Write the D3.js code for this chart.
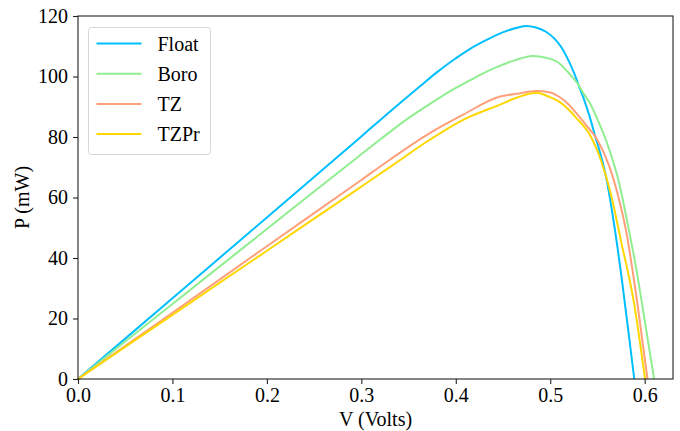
<!DOCTYPE html>
<html lang="en">
<head>
<meta charset="UTF-8">
<title>P-V curves</title>
<script src="https://d3js.org/d3.v7.min.js"></script>
<style>
  body { margin: 0; background: #fff; }
</style>
</head>
<body>
<script>
// series: voltage (V) and power (mW)
const seriesNames = ["Float", "Boro", "TZ", "TZPr"];
const seriesColors = ["#00bfff", "#90ee90", "#ffa07a", "#ffd700"];

const floatV = [0, 0.1, 0.2, 0.3, 0.3192, 0.3615, 0.3792, 0.3967, 0.4144, 0.432, 0.4496, 0.4672, 0.474, 0.4849, 0.4955, 0.5042, 0.5113, 0.5183, 0.5254, 0.5307, 0.536, 0.5412, 0.5465, 0.559, 0.569, 0.576, 0.583, 0.589];
const floatP = [0, 26.7, 53.4, 80.2, 85.4, 96.6, 101.2, 105.3, 109, 112, 114.6, 116.3, 116.7, 116.2, 114.8, 112.6, 109.9, 106, 101, 96.6, 92.2, 87.3, 81.5, 67, 48.3, 32.5, 15.2, 0];

const boroV = [0, 0.1, 0.2, 0.3, 0.3192, 0.347, 0.372, 0.386, 0.4, 0.4144, 0.43, 0.4426, 0.4637, 0.4813, 0.4955, 0.5095, 0.52, 0.529, 0.536, 0.5415, 0.55, 0.559, 0.573, 0.5836, 0.5906, 0.601, 0.61];
const boroP = [0, 24.8, 49.6, 74.3, 79, 85.6, 90.8, 93.6, 96.2, 98.6, 101.2, 103, 105.5, 106.8, 106.2, 104.4, 101, 97.7, 94, 91.5, 85.8, 79, 64.7, 48.8, 37.3, 17.5, 0];

const tzV = [0, 0.1, 0.2, 0.3, 0.3298, 0.372, 0.4073, 0.446, 0.4672, 0.4849, 0.4989, 0.5095, 0.52, 0.5307, 0.5378, 0.55, 0.5627, 0.573, 0.58, 0.5923, 0.603];
const tzP = [0, 21.9, 43.9, 65.8, 72.4, 81.2, 87.3, 93.3, 94.4, 95.2, 94.8, 93.3, 90.6, 86.7, 84, 79, 70.2, 59.2, 49.5, 25, 0];

const tzprV = [0, 0.1, 0.2, 0.3, 0.3333, 0.372, 0.4073, 0.446, 0.4672, 0.4849, 0.4989, 0.5095, 0.52, 0.527, 0.541, 0.5536, 0.564, 0.5747, 0.5888, 0.6004];
const tzprP = [0, 21.2, 42.4, 63.6, 70.7, 79, 85.6, 90.6, 93.3, 94.6, 93.3, 91.7, 88.9, 86.5, 81.2, 72.4, 61.4, 46, 25, 0];

const xTicks = [0, 0.1, 0.2, 0.3, 0.4, 0.5, 0.6];
const yTicks = [0, 20, 40, 60, 80, 100, 120];

const allV = [floatV, boroV, tzV, tzprV];
const allP = [floatP, boroP, tzP, tzprP];

const width = 680, height = 431;
const margin = { top: 16, right: 7, bottom: 52, left: 78 };
const fontSize = "20px";
const fontFamily = '"Liberation Serif", "Times New Roman", Times, serif';

const svg = d3.select("body").append("svg")
  .attr("width", width)
  .attr("height", height)
  .attr("font-family", fontFamily);

const x = d3.scaleLinear()
  .domain([0, 0.63])
  .range([margin.left, width - margin.right]);

const y = d3.scaleLinear()
  .domain([0, 120])
  .range([height - margin.bottom, margin.top]);

// lines
const line = d3.line()
  .x(d => x(d[0]))
  .y(d => y(d[1]))
  .curve(d3.curveMonotoneX);

seriesNames.forEach((name, i) => {
  const pts = allV[i].map((v, j) => [v, allP[i][j]]);
  svg.append("path")
    .datum(pts)
    .attr("fill", "none")
    .attr("stroke", seriesColors[i])
    .attr("stroke-width", 2)
    .attr("d", line);
});

// frame
svg.append("rect")
  .attr("x", x(0))
  .attr("y", y(120))
  .attr("width", x(0.63) - x(0))
  .attr("height", y(0) - y(120))
  .attr("fill", "none")
  .attr("stroke", "#222")
  .attr("stroke-width", 1.1);

// axes
const xAxis = d3.axisBottom(x)
  .tickValues(xTicks)
  .tickFormat(d3.format(".1f"))
  .tickSize(5)
  .tickSizeOuter(0)
  .tickPadding(4);

const yAxis = d3.axisLeft(y)
  .tickValues(yTicks)
  .tickFormat(d3.format("d"))
  .tickSize(5)
  .tickSizeOuter(0)
  .tickPadding(5);

const gx = svg.append("g")
  .attr("transform", `translate(0,${y(0)})`)
  .call(xAxis);
const gy = svg.append("g")
  .attr("transform", `translate(${x(0)},0)`)
  .call(yAxis);

[gx, gy].forEach(g => {
  g.attr("font-family", fontFamily).attr("font-size", fontSize);
  g.select(".domain").remove();
  g.selectAll(".tick line").attr("stroke", "#222").attr("stroke-width", 1.1);
  g.selectAll(".tick text").attr("fill", "#000");
});

// axis labels
svg.append("text")
  .attr("x", (x(0) + x(0.63)) / 2)
  .attr("y", 426)
  .attr("text-anchor", "middle")
  .attr("font-size", fontSize)
  .text("V (Volts)");

svg.append("text")
  .attr("transform", `translate(29,${(y(0) + y(120)) / 2}) rotate(-90)`)
  .attr("text-anchor", "middle")
  .attr("font-size", fontSize)
  .text("P (mW)");

// legend
const legend = svg.append("g");
legend.append("rect")
  .attr("x", 88.5)
  .attr("y", 27.5)
  .attr("width", 122)
  .attr("height", 127)
  .attr("rx", 3)
  .attr("fill", "#fff")
  .attr("fill-opacity", 0.8)
  .attr("stroke", "#d6d6d6");

seriesNames.forEach((name, i) => {
  const ly = 43.5 + i * 30.2;
  legend.append("line")
    .attr("x1", 96.5).attr("x2", 141.5)
    .attr("y1", ly).attr("y2", ly)
    .attr("stroke", seriesColors[i])
    .attr("stroke-width", 2);
  legend.append("text")
    .attr("x", 157.5)
    .attr("y", ly)
    .attr("dy", "0.35em")
    .attr("font-size", fontSize)
    .text(name);
});
</script>
</body>
</html>
